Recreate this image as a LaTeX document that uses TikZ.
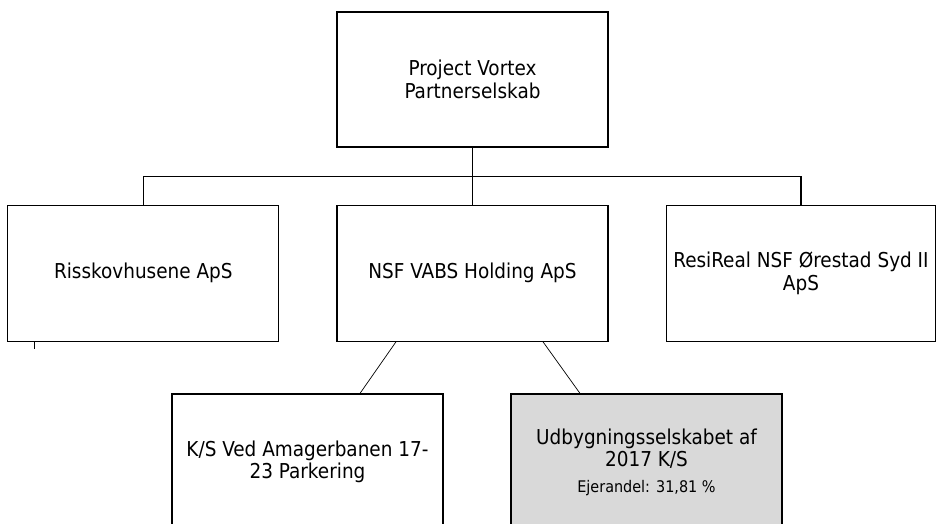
\documentclass[tikz,border=0pt]{standalone}
\usepackage{fontspec}
\setmainfont{DejaVu Sans Condensed}
\usepackage{xcolor}
\usetikzlibrary{positioning}
\definecolor{shade}{HTML}{D9D9D9}

\begin{document}
\begin{tikzpicture}[
        x=1pt, y=1pt,
        node distance=57pt and 57pt,
        box/.style={rectangle, draw, line width=1.2pt, minimum width=271pt, minimum height=136pt, align=center, inner sep=2pt, font=\fontsize{20.5}{22.5}\selectfont},
        shadebox/.style={box, fill=shade},
        link/.style={line width=1.2pt},
        thin link/.style={line width=0.7pt}
    ]
        \useasboundingbox (0,0) rectangle (936,-524);

        % Owner
        \node (vortex) [box, minimum height=135pt] at (472.5,-79.5) {Project Vortex\\Partnerselskab};

        % Middle row
        \node (nsf) [box, below=57pt of vortex] {NSF VABS Holding ApS};
        \node (risk) [box, left=57pt of nsf] {Risskovhusene ApS};
        \node (resi) [box, right=57pt of nsf, minimum width=269.5pt] {ResiReal NSF Ørestad Syd II\\ApS};

        % Bottom row
        \node (ks) [box] at (307.5,-462) {K/S Ved Amagerbanen 17-\\23 Parkering};
        \node (udb) [shadebox] at (646.5,-462) {Udbygningsselskabet af\\2017 K/S\\[3pt]{\fontsize{16}{18}\selectfont Ejerandel: 31,81 \%}};

        % Connect owner to middle row
        \draw [link] (vortex) -- (nsf);
        \draw [link] (risk.north) -- ++(0,28) -| (resi.north);

        % Connect holding to bottom row
        \draw [thin link] ([xshift=-76.5pt]nsf.south) -- ([xshift=52.5pt]ks.north);
        \draw [thin link] ([xshift=70.5pt]nsf.south) -- ([xshift=-66.5pt]udb.north);

        % Small tick below first box
        \draw [thin link] ([xshift=27pt]risk.south west) -- ++(0,-7);
    \end{tikzpicture}
\end{document}
